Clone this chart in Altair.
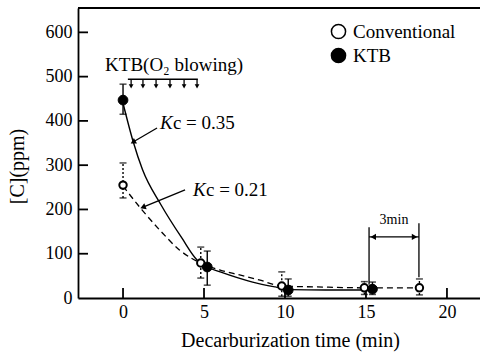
import altair as alt
import pandas as pd

# Carbon content [C] (ppm) versus decarburization time (min)
conv_time = [0, 4.8, 9.8, 14.9, 18.3]
conv_c = [255, 79, 27, 23, 23]
conv_lo = [226, 45, 4, 8, 7]
conv_hi = [305, 115, 59, 37, 43]

ktb_time = [0, 5.2, 10.2, 15.4]
ktb_c = [447, 70, 18, 20]
ktb_lo = [415, 29, 4, 8]
ktb_hi = [483, 106, 43, 36]

# fitted decay curves
fit035_time = [0, 0.62, 1.2, 2.35, 3.64, 4.57, 5.19, 6.0, 8.0, 9.4, 10.3, 12.5, 15.4]
fit035_c = [440, 354, 290, 210, 135, 86, 70, 59, 36, 25, 19, 18, 18]
fit021_time = [0, 1.17, 2.28, 3.5, 4.8, 6.0, 7.2, 8.4, 9.8, 12.0, 15.0, 18.3]
fit021_c = [253, 199, 153, 108, 79, 63, 52, 41, 27, 25, 23, 23]

x_ticks = [0, 5, 10, 15, 20]
y_ticks = [0, 100, 200, 300, 400, 500, 600]
blow_times = [0.5, 1.23, 2.04, 2.9, 3.77, 4.57]

SERIF = "Liberation Serif"
W, H = 402, 290
xs = alt.Scale(domain=[-2.78, 22.04], nice=False, zero=False)
ys = alt.Scale(domain=[0, 655], nice=False, zero=False)

# one shared axis definition per channel, reused by every layer
axis_style = dict(labelFont=SERIF, labelFontSize=18, labelColor="black",
                  titleFont=SERIF, titleFontSize=20, titleColor="black", titleFontWeight="normal",
                  grid=False, ticks=False, domainColor="black", domainWidth=1.8)
AX = alt.Axis(values=x_ticks, format="d", title="Decarburization time (min)",
              labelPadding=5, titleX=212, titleY=42, titleBaseline="middle", titleAlign="center",
              **axis_style)
AY = alt.Axis(values=y_ticks, format="d", title="[C](ppm)", labelPadding=6,
              titleAngle=270, titleX=-61, titleY=158, titleBaseline="middle", titleAlign="center",
              **axis_style)

pts = pd.concat([
    pd.DataFrame({"t": conv_time, "c": conv_c, "lo": conv_lo, "hi": conv_hi, "series": "Conventional"}),
    pd.DataFrame({"t": ktb_time, "c": ktb_c, "lo": ktb_lo, "hi": ktb_hi, "series": "KTB"}),
])
curves = pd.concat([
    pd.DataFrame({"t": fit035_time, "c": fit035_c, "fit": "0.35"}),
    pd.DataFrame({"t": fit021_time, "c": fit021_c, "fit": "0.21"}),
])


def qx(f):
    return alt.X(f, type="quantitative", scale=xs, axis=AX)


def qy(f):
    return alt.Y(f, type="quantitative", scale=ys, axis=AY)


solid = alt.Chart(curves).transform_filter("datum.fit == '0.35'").mark_line(
    color="black", strokeWidth=1.4, interpolate="monotone"
).encode(x=qx("t"), y=qy("c"))
dashed = alt.Chart(curves).transform_filter("datum.fit == '0.21'").mark_line(
    color="black", strokeWidth=1.3, strokeDash=[6, 4], interpolate="monotone"
).encode(x=qx("t"), y=qy("c"))

# error bars
err_ktb = alt.Chart(pts).transform_filter("datum.series == 'KTB'").mark_rule(
    color="black", strokeWidth=1.4).encode(x=qx("t"), y=qy("lo"), y2="hi:Q")
err_conv = alt.Chart(pts).transform_filter("datum.series == 'Conventional'").mark_rule(
    color="black", strokeWidth=1.4, strokeDash=[2, 2]).encode(x=qx("t"), y=qy("lo"), y2="hi:Q")
cap_hi = alt.Chart(pts).mark_tick(color="black", size=7, thickness=1.5, orient="horizontal").encode(
    x=qx("t"), y=qy("hi"))
cap_lo = alt.Chart(pts).mark_tick(color="black", size=7, thickness=1.5, orient="horizontal").encode(
    x=qx("t"), y=qy("lo"))

fill_enc = alt.Fill("series:N", scale=alt.Scale(domain=["Conventional", "KTB"], range=["white", "black"]),
                    legend=alt.Legend(title=None, orient="none", legendX=251, legendY=14,
                                      symbolType="circle", symbolSize=200, symbolStrokeColor="black",
                                      symbolStrokeWidth=1.5, labelFont=SERIF, labelFontSize=19,
                                      labelColor="black", labelOffset=5, rowPadding=3, padding=0))
conv_pts = alt.Chart(pts).transform_filter("datum.series == 'Conventional'").mark_point(
    shape="circle", filled=True, stroke="black", strokeWidth=2, size=55, opacity=1
).encode(x=qx("t"), y=qy("c"), fill=fill_enc)
ktb_pts = alt.Chart(pts).transform_filter("datum.series == 'KTB'").mark_point(
    shape="circle", filled=True, stroke="black", strokeWidth=1, size=95, opacity=1
).encode(x=qx("t"), y=qy("c"), fill=fill_enc)

# inward tick marks and top frame line
xt = alt.Chart(pd.DataFrame({"t": x_ticks})).mark_rule(color="black", strokeWidth=1.8).encode(
    x=qx("t"), y=alt.value(H), y2=alt.value(H - 10))
yt = alt.Chart(pd.DataFrame({"c": y_ticks[1:]})).mark_rule(color="black", strokeWidth=1.8).encode(
    y=qy("c"), x=alt.value(0), x2=alt.value(10))
top_line = alt.Chart(pd.DataFrame({"k": [0]})).mark_rule(color="black", strokeWidth=1.8).encode(
    x=alt.value(0), x2=alt.value(W), y=alt.value(0))

# O2 blowing period: bar with downward arrows
blow_bar = alt.Chart(pd.DataFrame({"t": [0.3], "b": [4.62], "c": [494]})).mark_rule(
    color="black", strokeWidth=1.5).encode(x=qx("t"), x2="b:Q", y=qy("c"))
blow_df = pd.DataFrame({"t": blow_times, "c": 494, "y1": 478})
blow_shaft = alt.Chart(blow_df).mark_rule(color="black", strokeWidth=1.3).encode(
    x=qx("t"), y=qy("c"), y2="y1:Q")
blow_head = alt.Chart(blow_df).mark_point(shape="triangle-down", filled=True, color="black",
                                          size=22, opacity=1).encode(x=qx("t"), y=qy("y1"))

# leader arrows to the curves and the 3 min span
seg = pd.DataFrame({
    "t": [2.1, 3.83, 15.19, 18.27, 15.19],
    "c": [384, 244, 160, 169, 138],
    "x2": [0.7, 1.35, 15.19, 18.27, 18.27],
    "y2": [354, 207, 30, 47, 138],
})
segs = alt.Chart(seg).mark_rule(color="black", strokeWidth=1.3).encode(
    x=qx("t"), y=qy("c"), x2="x2:Q", y2="y2:Q")
heads = pd.DataFrame({
    "t": [0.62, 1.23, 15.45, 18.0],
    "c": [352, 205, 138, 138],
    "ang": [240, 248, 270, 90],
})
head_marks = alt.Chart(heads).mark_point(shape="triangle-up", filled=True, color="black",
                                         size=40, opacity=1).encode(
    x=qx("t"), y=qy("c"), angle=alt.Angle("ang:Q", scale=None))


def label(x, y, txt, size, align="left", style="normal"):
    df = pd.DataFrame({"t": [x], "c": [y], "txt": [txt]})
    return alt.Chart(df).mark_text(font=SERIF, fontSize=size, fontStyle=style, color="black",
                                   baseline="middle", align=align).encode(
        x=qx("t"), y=qy("c"), text="txt:N")


texts = [
    label(-1.11, 526, "KTB(O\u2082 blowing)", 19),
    label(2.28, 395, "K", 19, style="italic"),
    label(3.08, 395, "c = 0.35", 19),
    label(4.32, 244, "K", 19, style="italic"),
    label(5.12, 244, "c = 0.21", 19),
    label(16.73, 176, "3min", 14, align="center"),
]

chart = alt.layer(
    solid, dashed, err_ktb, err_conv, cap_hi, cap_lo, xt, yt, top_line,
    blow_bar, blow_shaft, blow_head, segs, head_marks, *texts, conv_pts, ktb_pts,
).properties(
    width=W, height=H,
    autosize=alt.AutoSizeParams(type="none"),
    padding={"left": 78, "top": 8, "right": 0, "bottom": 59},
    background="white",
).configure_view(stroke=None, clip=False).configure_axis(
    grid=False, ticks=False, domainColor="black", domainWidth=1.8,
    labelFont=SERIF, labelFontSize=18, labelColor="black",
    titleFont=SERIF, titleFontSize=20, titleColor="black", titleFontWeight="normal",
)

chart.save("out.html", embed_options={"renderer": "svg", "actions": False})
